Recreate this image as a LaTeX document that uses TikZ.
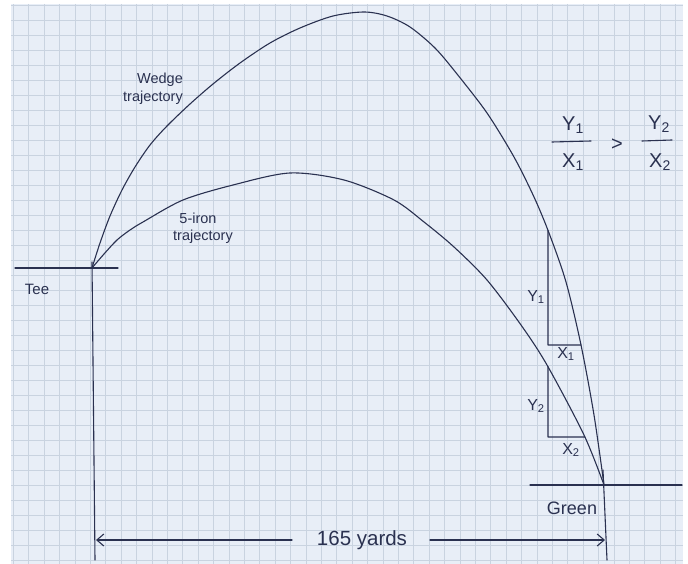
\documentclass[tikz,border=0pt]{standalone}
\usepackage{fontspec}
\setmainfont{Liberation Sans}
\usetikzlibrary{intersections,arrows.meta}
\definecolor{paper}{HTML}{E8EEF7}
\definecolor{gridc}{HTML}{C9D3E0}
\definecolor{ink}{HTML}{2A3150}
\begin{document}
\begin{tikzpicture}[x=1pt,y=-1pt,
  inkline/.style={draw=ink, line width=1.1pt, line cap=round, line join=round},
  lab/.style={text=ink, inner sep=0pt, font=\fontsize{14.5}{16}\selectfont},
  triglab/.style={text=ink, inner sep=0pt, font=\fontsize{16}{18}\selectfont},
  biglab/.style={text=ink, inner sep=0pt, font=\fontsize{20}{22}\selectfont},
  gridline/.style={draw=gridc, line width=0.6pt},
  dimarrow/.style={inkline, -{Straight Barb[length=7pt,width=12pt,line width=1.1pt]}}]
\useasboundingbox (0,0) rectangle (688,564);
\fill[white] (0,0) rectangle (688,564);
\fill[paper] (11,4) rectangle (683,564);
\foreach \i in {0,...,43} \draw[gridline] ({13.3+15.4*\i},4) -- ({13.3+15.4*\i},564);
\foreach \j in {0,...,37} \draw[gridline] (11,{5+15*\j}) -- (683,{5+15*\j});

% trajectories
\draw[inkline, name path=wedge] plot[smooth, tension=0.5] coordinates {
  (92,268) (100,243) (110,216) (122,190) (135,167) (150,145) (167,126)
  (190,104) (213,84) (240,63) (270,43) (300,28) (333,16) (364,12)
  (387,16) (410,27) (435,48) (457,74) (487,113) (514,157) (534,197)
  (549,233) (566,282) (581,345) (594,415) (604,485)};
\draw[inkline, name path=iron] plot[smooth, tension=0.5] coordinates {
  (92,268) (104,254) (117,240) (130,230) (143,222) (183,200) (233,185)
  (290,173) (344,180) (394,200) (424,222) (454,247) (487,280) (521,325)
  (547,365) (584,435) (604,485)};

% tee and green markers
\coordinate (teeL) at (15,268);
\coordinate (teeR) at (118,268);
\coordinate (teeT) at (92,262);
\coordinate (teeB) at (95,560);
\draw[inkline] (teeL) -- (teeR);
\draw[inkline] (teeT) -- (teeB);
\coordinate (grL) at (530,485);
\coordinate (grR) at (682,485);
\coordinate (grT) at (603,470);
\coordinate (grB) at (607,560);
\draw[inkline] (grL) -- (grR);
\draw[inkline] (grT) -- (grB);

% slope triangles
\path[name path=vx] (548,0) -- (548,564);
\path[name path=h1] (500,345) -- (680,345);
\path[name path=h2] (500,437) -- (680,437);
\path[name intersections={of=wedge and vx, by={t1top}}];
\path[name intersections={of=wedge and h1, by={t1right}}];
\path[name intersections={of=iron and vx, by={t2top}}];
\path[name intersections={of=iron and h2, by={t2right}}];
\coordinate (t1corner) at (548,345);
\coordinate (t2corner) at (548,437);
\draw[inkline] (t1top) -- (t1corner) -- (t1right);
\draw[inkline] (t2top) -- (t2corner) -- (t2right);

% labels
\node[lab] (wedgeA) at (160,80) {Wedge};
\node[lab] (wedgeB) at (153,98) {trajectory};
\node[lab] (ironA) at (198,218) {5-iron};
\node[lab] (ironB) at (203,237) {trajectory};
\node[lab, font=\fontsize{15}{17}\selectfont] (tee) at (37,289) {Tee};
\node[lab, font=\fontsize{18}{20}\selectfont] (green) at (572,508) {Green};
\node[triglab] (y1) at (536,297) {Y\textsubscript{1}};
\node[triglab] (x1) at (566,354) {X\textsubscript{1}};
\node[triglab] (y2) at (536,406) {Y\textsubscript{2}};
\node[triglab] (x2) at (571,450) {X\textsubscript{2}};

% fraction
\node[biglab] (fy1) at (573,125) {Y\textsubscript{1}};
\node[biglab] (fx1) at (573,162) {X\textsubscript{1}};
\node[biglab] (gt) at (617,145) {>};
\node[biglab] (fy2) at (659,124) {Y\textsubscript{2}};
\node[biglab] (fx2) at (660,162) {X\textsubscript{2}};
\coordinate (b1L) at (552,142);
\coordinate (b1R) at (591,141);
\coordinate (b2L) at (642,141);
\coordinate (b2R) at (672,140);
\draw[inkline] (b1L) -- (b1R);
\draw[inkline] (b2L) -- (b2R);

% distance
\node[lab, font=\fontsize{20.5}{22}\selectfont] (yards) at (362,540) {165 yards};
\coordinate (arrL) at (96,540);
\coordinate (arrR) at (605,540);
\draw[dimarrow] (292,540) -- (arrL);
\draw[dimarrow] (430,540) -- (arrR);
\end{tikzpicture}
\end{document}
